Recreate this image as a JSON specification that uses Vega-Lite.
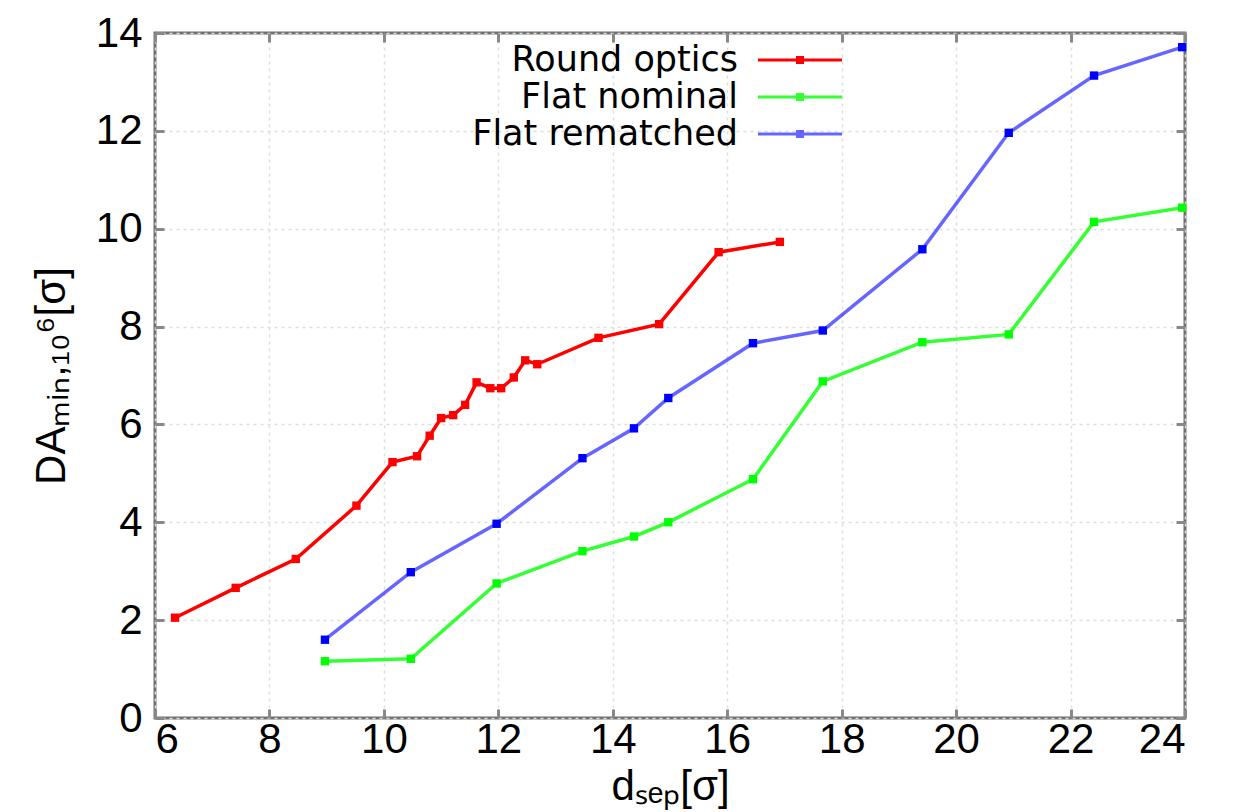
{
  "$schema": "https://vega.github.io/schema/vega-lite/v6.json",
  "width": 1030,
  "height": 685,
  "autosize": {"type": "none"},
  "padding": {"left": 155, "top": 33, "right": 62, "bottom": 94},
  "background": "white",
  "config": {
    "font": "Liberation Sans",
    "view": {"stroke": "#707070", "strokeWidth": 3}
  },
  "data": {
    "values": [
      {"s": "Round optics", "x": 6.35, "y": 2.05},
      {"s": "Round optics", "x": 7.41, "y": 2.66},
      {"s": "Round optics", "x": 8.46, "y": 3.25},
      {"s": "Round optics", "x": 9.52, "y": 4.34},
      {"s": "Round optics", "x": 10.15, "y": 5.23},
      {"s": "Round optics", "x": 10.58, "y": 5.35},
      {"s": "Round optics", "x": 10.8, "y": 5.77},
      {"s": "Round optics", "x": 11.0, "y": 6.13},
      {"s": "Round optics", "x": 11.21, "y": 6.19},
      {"s": "Round optics", "x": 11.42, "y": 6.4},
      {"s": "Round optics", "x": 11.62, "y": 6.86},
      {"s": "Round optics", "x": 11.86, "y": 6.74},
      {"s": "Round optics", "x": 12.05, "y": 6.74},
      {"s": "Round optics", "x": 12.27, "y": 6.96},
      {"s": "Round optics", "x": 12.47, "y": 7.31},
      {"s": "Round optics", "x": 12.68, "y": 7.23},
      {"s": "Round optics", "x": 13.75, "y": 7.77},
      {"s": "Round optics", "x": 14.81, "y": 8.05},
      {"s": "Round optics", "x": 15.85, "y": 9.52},
      {"s": "Round optics", "x": 16.92, "y": 9.73},
      {"s": "Flat nominal", "x": 8.97, "y": 1.16},
      {"s": "Flat nominal", "x": 10.47, "y": 1.21},
      {"s": "Flat nominal", "x": 11.97, "y": 2.75},
      {"s": "Flat nominal", "x": 13.47, "y": 3.41},
      {"s": "Flat nominal", "x": 14.37, "y": 3.71},
      {"s": "Flat nominal", "x": 14.97, "y": 4.0},
      {"s": "Flat nominal", "x": 16.45, "y": 4.88},
      {"s": "Flat nominal", "x": 17.67, "y": 6.88},
      {"s": "Flat nominal", "x": 19.41, "y": 7.68},
      {"s": "Flat nominal", "x": 20.92, "y": 7.84},
      {"s": "Flat nominal", "x": 22.41, "y": 10.14},
      {"s": "Flat nominal", "x": 23.95, "y": 10.43},
      {"s": "Flat rematched", "x": 8.97, "y": 1.6},
      {"s": "Flat rematched", "x": 10.47, "y": 2.98},
      {"s": "Flat rematched", "x": 11.97, "y": 3.97},
      {"s": "Flat rematched", "x": 13.47, "y": 5.31},
      {"s": "Flat rematched", "x": 14.37, "y": 5.92},
      {"s": "Flat rematched", "x": 14.97, "y": 6.54},
      {"s": "Flat rematched", "x": 16.45, "y": 7.66},
      {"s": "Flat rematched", "x": 17.67, "y": 7.92},
      {"s": "Flat rematched", "x": 19.41, "y": 9.58},
      {"s": "Flat rematched", "x": 20.92, "y": 11.96},
      {"s": "Flat rematched", "x": 22.41, "y": 13.13},
      {"s": "Flat rematched", "x": 23.95, "y": 13.71}
    ]
  },
  "layer": [
    {
      "mark": {"type": "line", "strokeWidth": 3.5},
      "encoding": {
        "x": {
          "field": "x", "type": "quantitative",
          "scale": {"domain": [6, 24], "nice": false},
          "axis": {
            "orient": "bottom", "values": [6, 8, 10, 12, 14, 16, 18, 20, 22, 24],
            "title": "dₛₑₚ[σ]", "titleFontSize": 42, "titleFont": "Liberation Sans", "titleFontWeight": "normal", "titleColor": "black", "titlePadding": 6,
            "labelFontSize": 42, "labelColor": "black", "labelPadding": 10, "labelFont": "Liberation Sans",
            "ticks": true, "tickSize": -9, "tickColor": "#888888", "tickWidth": 3,
            "domain": false,
            "grid": true, "gridColor": "#dddddd", "gridDash": [3, 4], "gridWidth": 1.5
          }
        },
        "y": {
          "field": "y", "type": "quantitative",
          "scale": {"domain": [0, 14], "nice": false},
          "axis": {
            "orient": "left", "values": [0, 2, 4, 6, 8, 10, 12, 14],
            "title": "DAₘᵢₙ,₁₀⁶[σ]", "titleFontSize": 42, "titleFont": "Liberation Sans", "titleFontWeight": "normal", "titleColor": "black", "titlePadding": 22,
            "labelFontSize": 42, "labelColor": "black", "labelPadding": 22, "labelFont": "Liberation Sans",
            "ticks": true, "tickSize": -9, "tickColor": "#888888", "tickWidth": 3,
            "domain": false,
            "grid": true, "gridColor": "#dddddd", "gridDash": [3, 4], "gridWidth": 1.5
          }
        },
        "color": {
          "field": "s", "type": "nominal",
          "scale": {"domain": ["Round optics", "Flat nominal", "Flat rematched"], "range": ["#ff0000", "#00ff00", "#0000ff"]},
          "legend": {
            "orient": "none",
            "legendX": 626.5,
            "legendY": 8.5,
            "padding": 0,
            "title": null,
            "symbolType": "M-2.27,-0.086H2.27V0.086H-2.27Z M-0.216,-0.216H0.216V0.216H-0.216Z",
            "symbolSize": 1369,
            "symbolStrokeWidth": 0,
            "symbolOpacity": 1,
            "labelAlign": "right",
            "labelOffset": -80.5,
            "labelFontSize": 35,
            "labelFont": "DejaVu Sans",
            "labelColor": "black",
            "labelLimit": 500,
            "rowPadding": 0
          }
        },
        "opacity": {
          "field": "s", "type": "nominal",
          "scale": {"domain": ["Round optics", "Flat nominal", "Flat rematched"], "range": [1, 0.6, 0.55]},
          "legend": null
        }
      }
    },
    {
      "mark": {"type": "point", "shape": "square", "filled": true, "size": 70, "opacity": 1},
      "encoding": {
        "x": {
          "field": "x", "type": "quantitative",
          "axis": {"orient": "top", "values": [6, 8, 10, 12, 14, 16, 18, 20, 22, 24], "labels": false, "title": null, "domain": false, "grid": false, "tickSize": -9, "tickColor": "#888888", "tickWidth": 3}
        },
        "y": {
          "field": "y", "type": "quantitative",
          "axis": {"orient": "right", "values": [0, 2, 4, 6, 8, 10, 12, 14], "labels": false, "title": null, "domain": false, "grid": false, "tickSize": -9, "tickColor": "#888888", "tickWidth": 3}
        },
        "color": {"field": "s", "type": "nominal"}
      }
    }
  ],
  "resolve": {"axis": {"x": "independent", "y": "independent"}}
}
